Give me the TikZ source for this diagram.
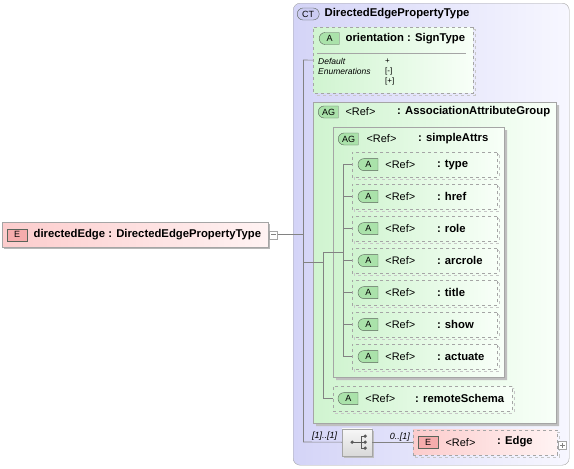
\documentclass[tikz,border=0pt,11pt]{standalone}
\usepackage{fontspec}
\setmainfont{Liberation Sans}
\usetikzlibrary{positioning,shapes.misc,shadows}

\definecolor{ctleft}{RGB}{212,212,247}
\definecolor{ctright}{RGB}{247,247,255}
\definecolor{agleft}{RGB}{208,244,208}
\definecolor{agright}{RGB}{248,255,248}
\definecolor{elleft}{RGB}{252,204,204}
\definecolor{elright}{RGB}{255,243,243}
\definecolor{framecol}{RGB}{165,165,165}
\definecolor{wirecol}{RGB}{130,130,130}
\definecolor{tagline}{RGB}{90,100,90}
\definecolor{tagA}{RGB}{170,226,170}
\definecolor{tagE}{RGB}{246,172,172}
\definecolor{tagCT}{RGB}{204,204,242}

\begin{document}
\begin{tikzpicture}[x=1pt, y=-1pt,
  wire/.style = {draw=wirecol, line width=0.6pt},
  dbox/.style = {anchor=north west, inner sep=0pt, draw=framecol},
  elbox/.style = {dbox, left color=elleft, right color=elright,
    drop shadow={shadow xshift=2pt, shadow yshift=-2pt, fill=black!28, opacity=1}},
  refbox/.style = {dbox, dashed, left color=elleft, right color=elright,
    general shadow={shadow xshift=2pt, shadow yshift=-2pt, draw=black!22, dashed}},
  ctbox/.style = {dbox, rounded corners=7pt, left color=ctleft, right color=ctright},
  agbox/.style = {dbox, chamfered rectangle, chamfered rectangle corners={north west,south west},
    chamfered rectangle sep=6pt, left color=agleft, right color=agright,
    drop shadow={shadow xshift=3pt, shadow yshift=-3pt, fill=black!25, opacity=1}},
  attbox/.style = {dbox, dashed, chamfered rectangle, chamfered rectangle corners={north west,south west},
    chamfered rectangle sep=5pt, left color=agleft, right color=agright,
    general shadow={shadow xshift=2pt, shadow yshift=-2pt, draw=black!22, dashed}},
  seqbox/.style = {dbox, top color=black!3, bottom color=black!15,
    drop shadow={shadow xshift=2pt, shadow yshift=-2pt, fill=black!25, opacity=1}},
  tglbox/.style = {draw=framecol, fill=white, inner sep=0pt, minimum size=8pt},
  tagbase/.style = {draw=tagline, inner sep=0pt, minimum width=20pt, minimum height=12pt, font=\footnotesize},
  atag/.style = {tagbase, rounded rectangle, rounded rectangle right arc=none, fill=tagA},
  cttag/.style = {tagbase, rounded rectangle, minimum width=22pt, fill=tagCT},
  etag/.style = {tagbase, rectangle, fill=tagE},
  txt/.style = {inner sep=0pt, anchor=west},
  nametxt/.style = {txt, font=\fontsize{11.3}{13}\selectfont\bfseries},
  facet/.style = {txt, font=\fontsize{8.5}{10}\selectfont\itshape},
  facetval/.style = {txt, font=\fontsize{8}{9}\selectfont},
  card/.style = {inner sep=0pt, font=\footnotesize\itshape},
  icon/.style = {draw=black!65, line width=0.8pt}]
\useasboundingbox (0,0) rectangle (574,469);

% element
\node[elbox, minimum width=266pt, minimum height=25pt] (dEdge) at (2,222) {};
\node[etag, right=5pt of dEdge.west] (dEdgeTag) {E};
\node[nametxt, right=6pt of dEdgeTag] {directedEdge : DirectedEdgePropertyType};
\node[tglbox, right=1pt of dEdge.east] (dEdgeTgl) {};
\draw[wire] ([xshift=-2.5pt]dEdgeTgl.center) -- ([xshift=2.5pt]dEdgeTgl.center);

% complex type
\node[ctbox, minimum width=276pt, minimum height=462pt] (ctype) at (293,3) {};
\node[cttag, anchor=west] (ctTag) at (297,14) {CT};
\node[nametxt, right=5pt of ctTag] {DirectedEdgePropertyType};

% attribute orientation
\node[attbox, minimum width=160pt, minimum height=66pt] (orient) at (313,27) {};
\node[atag, anchor=west] (orientTag) at (319,38.5) {A};
\node[nametxt, right=6pt of orientTag] {orientation : SignType};
\draw[framecol] (317,53) -- (466,53);
\node[facet] (dflt) at (318,61) {Default};
\node[facet] (enums) at (318,71) {Enumerations};
\node[facetval] at (385,61) {+};
\node[facetval] at (385,71) {[-]};
\node[facetval] at (385,81) {[+]};

% attribute groups
\node[agbox, minimum width=243pt, minimum height=321pt] (assoc) at (313,102) {};
\node[atag, anchor=west] (assocTag) at (318,112) {AG};
\node[txt, right=7pt of assocTag] {<Ref>};
\node[nametxt] at (397,112) {: AssociationAttributeGroup};

\node[agbox, minimum width=171pt, minimum height=250pt] (simple) at (333,127) {};
\node[atag, anchor=west] (simpleTag) at (338,139) {AG};
\node[txt, right=8pt of simpleTag] {<Ref>};
\node[nametxt] at (418,139) {: simpleAttrs};

\coordinate (railC) at (343,164.5);
\foreach \nm [count=\i from 0] in {type,href,role,arcrole,title,show,actuate} {
  \node[attbox, minimum width=145pt, minimum height=25pt] (\nm) at (352,{152+32*\i}) {};
  \node[atag, right=6pt of \nm.west] (\nm Tag) {A};
  \node[txt, right=7pt of \nm Tag] {<Ref>};
  \node[nametxt] at ([xshift=85pt]\nm.west) {: \nm};
  \draw[wire] (\nm.west -| railC) -- (\nm.west);
}

\node[attbox, minimum width=179pt, minimum height=25pt] (remote) at (333,386) {};
\node[atag, right=5pt of remote.west] (remoteTag) {A};
\node[txt, right=7pt of remoteTag] {<Ref>};
\node[nametxt] at (415,398.5) {: remoteSchema};

% sequence and Edge
\node[seqbox, minimum width=30pt, minimum height=27pt] (seq) at (342,428.5) {};
\node[refbox, minimum width=144pt, minimum height=25pt] (edge) at (413,429.5) {};
\node[etag, right=5pt of edge.west] (edgeTag) {E};
\node[txt, right=7pt of edgeTag] {<Ref>};
\node[nametxt] at (497,442) {: Edge};
\node[tglbox, right=1pt of edge.east, yshift=-3pt] (edgeTgl) {};
\draw[wire] ([xshift=-2.5pt]edgeTgl.center) -- ([xshift=2.5pt]edgeTgl.center);
\draw[wire] ([yshift=-2.5pt]edgeTgl.center) -- ([yshift=2.5pt]edgeTgl.center);

\draw[icon] ([xshift=-5pt]seq.center) -- ([xshift=4pt]seq.center);
\draw[icon] ([xshift=4pt,yshift=6pt]seq.center) -- ([xshift=4pt,yshift=-6pt]seq.center);
\foreach \dy in {6,0,-6} {
  \draw[icon] ([xshift=4pt,yshift=\dy pt]seq.center) -- ([xshift=8pt,yshift=\dy pt]seq.center);
  \fill[black!65] ([xshift=8pt,yshift=\dy pt]seq.center) circle (1.8pt);
}
\fill[black!65] ([xshift=-5pt]seq.center) circle (1.8pt);

% connectors
\coordinate (railA) at (303,60);
\coordinate (railAend) at (303,442);
\coordinate (railB) at (323,252);
\draw[wire] (dEdgeTgl.east) -- (dEdgeTgl.east -| railA);
\draw[wire] (railA) -- (railAend);
\draw[wire] (railA) -- (orient.west);
\draw[wire] (assoc.west -| railA) -- (assoc.west -| railB);
\draw[wire] (railB) |- (remote.west);
\draw[wire] (simple.west -| railB) -- (simple.west -| railC);
\draw[wire] (railC) -- (railC |- actuate.west);
\draw[wire] (railAend) -- (seq.west);
\draw[wire] (seq.east) -- (edge.west);
\node[card, above right=1pt and 9pt of railAend] {[1]..[1]};
\node[card, above left=1pt and 3pt of edge.west] {0..[1]};
\end{tikzpicture}
\end{document}
